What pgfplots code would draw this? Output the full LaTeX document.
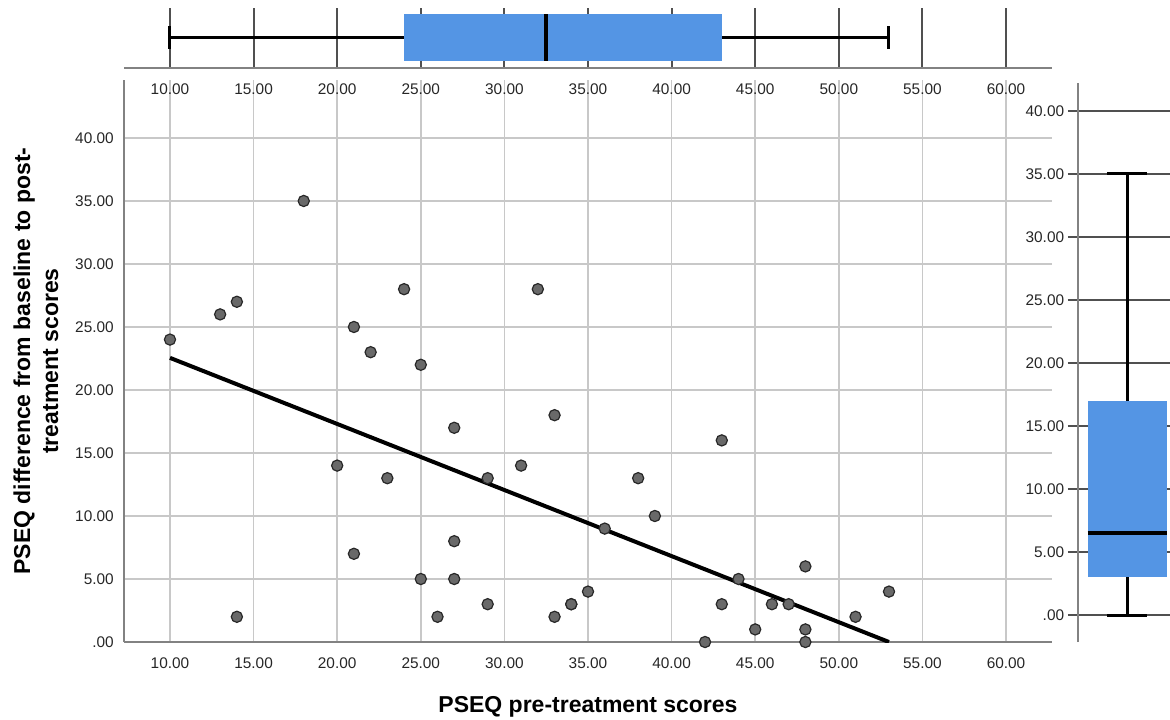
\documentclass[border=0pt]{standalone}
\usepackage{fontspec}
\setmainfont{Liberation Sans}
\usepackage{pgfplots}
\pgfplotsset{compat=1.18}
\usepgfplotslibrary{statistics}

\definecolor{boxblue}{RGB}{84,149,228}
\definecolor{gridlight}{RGB}{200,200,200}
\definecolor{griddark}{RGB}{80,80,80}
\definecolor{axisgray}{RGB}{130,130,130}
\definecolor{ptfill}{RGB}{105,105,105}
\definecolor{ptdraw}{RGB}{40,40,40}

\pgfplotsset{
  spss/.style={
    scale only axis,
    anchor=south west,
    ticklabel style={font=\fontsize{7.7}{9}\selectfont, text=black!85},
    axis line style={axisgray, line width=0.7pt},
  },
  sbox/.style={
    black, line width=1.5pt,
    boxplot/every box/.style={draw=none, fill=boxblue},
    boxplot/every median/.style={line width=2pt},
  },
}

\begin{document}
\begin{tikzpicture}
\path[use as bounding box] (0,0) rectangle (585pt,359.5pt);

% main scatter
\begin{axis}[spss,
  at={(62pt,38.5pt)}, width=464pt, height=281pt,
  xmin=7.25, xmax=62.75, ymin=0, ymax=44.6,
  axis x line*=bottom, axis y line*=left,
  xtick={10,15,...,60}, ytick={0,5,...,40},
  xticklabels={10.00,15.00,20.00,25.00,30.00,35.00,40.00,45.00,50.00,55.00,60.00},
  yticklabels={.00,5.00,10.00,15.00,20.00,25.00,30.00,35.00,40.00},
  major tick length=0pt,
  xticklabel shift=4.4pt, yticklabel shift=1.6pt,
  grid=major, grid style={gridlight, line width=0.75pt},
  xlabel={PSEQ pre-treatment scores},
  ylabel={PSEQ difference from baseline to post-\\treatment scores},
  every axis x label/.style={at={(axis description cs:0.5,-0.115)}, anchor=center,
    font=\fontsize{11.5}{14}\selectfont\bfseries},
  every axis y label/.style={at={(axis description cs:-0.0948,0.5)}, anchor=center,
    rotate=90, align=center, font=\fontsize{11.5}{14}\selectfont\bfseries},
]
\addplot[only marks, mark=*, mark size=2.8pt,
  mark options={fill=ptfill, draw=ptdraw, line width=0.6pt}] coordinates {
  (10,24) (13,26) (14,27) (14,2) (18,35) (20,14) (21,25) (21,7)
  (22,23) (23,13) (24,28) (25,22) (25,5) (26,2) (27,17) (27,8)
  (27,5) (29,13) (29,3) (31,14) (32,28) (33,18) (33,2) (34,3)
  (34,3) (35,4) (36,9) (38,13) (39,10) (42,0) (43,16) (43,3)
  (44,5) (45,1) (46,3) (47,3) (48,6) (48,1) (48,0) (51,2) (53,4)
};
\addplot[black, line width=2pt] coordinates {(10,22.55) (53,0)};
\end{axis}

% top boxplot
\begin{axis}[spss,
  at={(62pt,325.5pt)}, width=464pt, height=30pt,
  xmin=7.25, xmax=62.75, ymin=0, ymax=60,
  axis x line*=bottom, axis y line=none,
  xtick={10,15,...,60}, ytick=\empty,
  xticklabels={10.00,15.00,20.00,25.00,30.00,35.00,40.00,45.00,50.00,55.00,60.00},
  major tick length=0pt, xticklabel shift=4.4pt,
  xmajorgrids, grid style={griddark, line width=1pt},
]
\addplot[sbox, boxplot/draw direction=x,
  boxplot prepared={lower whisker=10, lower quartile=24, median=32.5,
    upper quartile=43, upper whisker=53,
    draw position=30.5, box extend=47, whisker extend=23}] coordinates {};
\end{axis}

% right boxplot
\begin{axis}[spss,
  at={(539pt,38.5pt)}, width=46pt, height=279.5pt,
  xmin=0, xmax=92, ymin=-2.14, ymax=42.22,
  axis y line*=left, axis x line=none,
  ytick={0,5,...,40}, xtick=\empty,
  yticklabels={.00,5.00,10.00,15.00,20.00,25.00,30.00,35.00,40.00},
  tick align=outside, major tick length=5.1pt,
  ytick style={griddark, line width=1pt},
  yticklabel shift=-1.7pt,
  ymajorgrids, grid style={griddark, line width=1pt},
]
\addplot[sbox, boxplot/draw direction=y,
  boxplot prepared={lower whisker=0, lower quartile=3, median=6.5,
    upper quartile=17, upper whisker=35,
    draw position=49.2, box extend=79, whisker extend=40}] coordinates {};
\end{axis}
\end{tikzpicture}
\end{document}
